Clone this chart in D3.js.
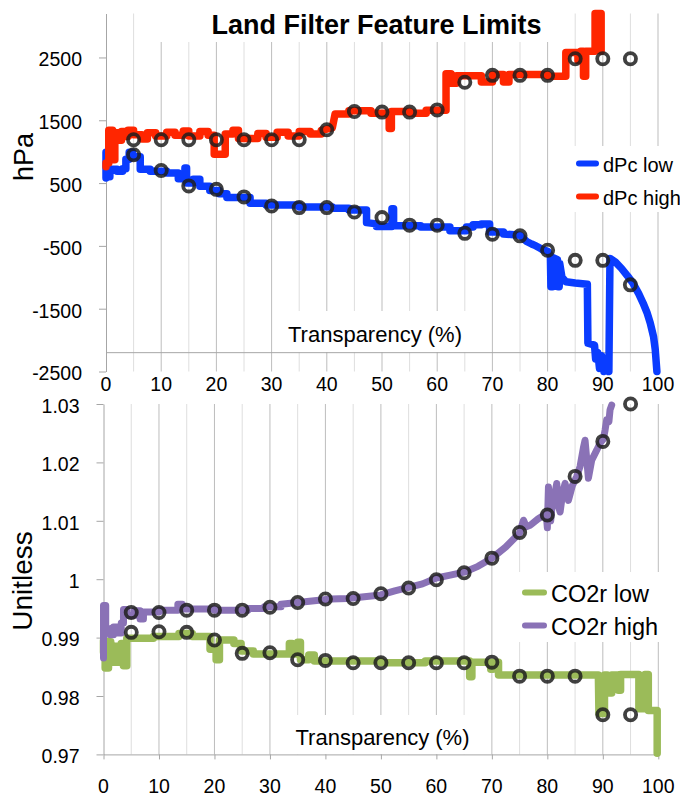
<!DOCTYPE html>
<html><head><meta charset="utf-8">
<script src="https://cdn.jsdelivr.net/npm/d3@7"></script>
<style>body{margin:0;background:#fff;}svg{display:block;}text{font-family:"Liberation Sans",Arial,sans-serif;fill:#000;}</style>
</head><body><svg id="c" width="680" height="796"></svg>
<script>
// ---------- data ----------
const xTickValues = [0,10,20,30,40,50,60,70,80,90,100];
const gridValues = [5,10,15,20,25,30,35,40,45,50,55,60,65,70,75,80,85,90,95,100];
const markX = [5,10,15,20,25,30,35,40,45,50,55,60,65,70,75,80,85,90,95];

const dPcTicks = [-2500,-1500,-500,500,1500,2500];
const dPcTickLabels = ["-2500","-1500","-500","500","1500","2500"];
const co2Ticks = [0.97,0.98,0.99,1,1.01,1.02,1.03];
const co2TickLabels = ["0.97","0.98","0.99","1","1.01","1.02","1.03"];

const dPcLowMarks = [950,700,455,400,280,135,110,110,40,-50,-170,-170,-300,-315,-340,-570,-730,-730,-1120];
const dPcHighMarks = [1190,1190,1190,1190,1190,1190,1190,1350,1640,1630,1630,1665,2105,2215,2215,2215,2480,2480,2480];
const co2LowMarks = [0.9909,0.9910,0.9909,0.9896,0.9873,0.9874,0.9862,0.9861,0.9857,0.9857,0.9857,0.9857,0.9857,0.9858,0.9834,0.9834,0.9834,0.9768,0.9768];
const co2HighMarks = [0.9943,0.9943,0.9947,0.9947,0.9947,0.9952,0.9960,0.9966,0.9967,0.9975,0.9985,0.9999,1.0011,1.0036,1.0080,1.0110,1.0176,1.0236,1.0300];

const dPcLow = [[0,580],[0,990],[0.3,990],[0.3,600],[0.7,600],[0.7,720],[2,720],[2,690],[3,690],[3,730],[3.6,730],[3.6,880],[4.2,880],[4.2,990],[4.8,990],[4.8,920],[6.2,920],[6.2,720],[8,720],[8,690],[11,690],[11,660],[13.1,660],[13.1,570],[14.3,570],[14.3,740],[14.6,740],[14.6,500],[15.8,500],[15.8,560],[17,560],[17,450],[18.8,450],[18.8,380],[20.5,380],[20.5,330],[21.9,330],[21.9,270],[26.1,270],[26.1,180],[29,180],[29,150],[35,150],[35,120],[41,120],[41,100],[44,100],[44,70],[47.2,70],[47.2,-130],[49,-150],[49,-190],[51.8,-190],[51.8,90],[52.1,90],[52.1,-180],[57,-180],[57,-200],[62.3,-200],[62.3,-260],[65.3,-260],[65.3,-200],[66.5,-200],[66.5,-165],[68,-165],[68,-150],[69.5,-150],[69.5,-280],[72,-280],[72,-310],[75,-330],[75.6,-380],[76.2,-430],[77.1,-470],[77.9,-500],[78.5,-530],[79.1,-560],[80.1,-590],[80.5,-650],[80.6,-1150],[80.9,-1150],[81,-690],[81.8,-720],[81.9,-1150],[82.1,-1150],[82.2,-780],[82.6,-1000],[83.3,-1070],[85,-1090],[87.2,-1110],[87.3,-2050],[88.5,-2080],[88.7,-2300],[89.1,-2200],[89.4,-2450],[89.8,-2250],[90.2,-2500],[90.8,-2350],[91.1,-2500],[91.3,-700],[92.3,-760],[93.4,-860],[94.5,-980],[95.5,-1100],[96.5,-1260],[97.3,-1410],[98,-1560],[98.6,-1730],[99.2,-1950],[99.5,-2150],[99.8,-2500]];

const dPcHigh = [[0,760],[0,820],[0.5,820],[0.5,1340],[1.2,1340],[1.2,870],[1.6,870],[1.6,1300],[2.4,1300],[2.4,1180],[2.8,1180],[2.8,1320],[3.4,1320],[3.4,1240],[4,1240],[4,1340],[5,1340],[5,1270],[6.5,1270],[6.5,1200],[7.5,1200],[7.5,1300],[9,1300],[9,1250],[11,1250],[11,1310],[12.5,1310],[12.5,1260],[14,1260],[14,1330],[15,1330],[15,1250],[17,1250],[17,1320],[18.5,1320],[18.5,1260],[19.6,1260],[19.6,960],[21.6,960],[21.6,1280],[23,1280],[23,1340],[24,1340],[24,1210],[27.5,1210],[27.5,1290],[29,1290],[29,1230],[31,1230],[31,1310],[33,1310],[33,1250],[35,1250],[35,1320],[37,1320],[37,1280],[39,1280],[39,1340],[41,1380],[41.5,1600],[44,1600],[44,1650],[48,1650],[48,1610],[51.3,1610],[51.3,1370],[51.7,1370],[51.7,1640],[55,1640],[55,1610],[58,1610],[58,1660],[61.6,1660],[61.6,2240],[62.5,2240],[62.5,2090],[63.5,2090],[63.5,2210],[68,2210],[68,2110],[70,2110],[70,2230],[72,2230],[72,2110],[73,2110],[73,2230],[80,2230],[80,2200],[83.3,2200],[83.3,2580],[85.5,2580],[85.5,2450],[86,2450],[86,2600],[86.5,2600],[86.5,2200],[86.9,2200],[86.9,2600],[88.6,2600],[88.6,3200],[89.7,3200],[89.7,2600]];

const co2Low = [[0,0.9875],[0,0.9895],[0.3,0.9895],[0.3,0.9848],[0.9,0.9848],[0.9,0.9893],[1.3,0.9893],[1.3,0.9858],[2.0,0.9858],[2.0,0.9885],[2.4,0.9885],[2.4,0.9858],[3.2,0.9858],[3.2,0.9890],[3.6,0.9890],[3.6,0.9852],[4.2,0.9852],[4.2,0.9899],[9,0.9899],[9,0.9902],[13.6,0.9902],[13.6,0.9907],[16,0.9907],[16,0.9902],[19.2,0.9902],[19.2,0.9880],[20.3,0.9880],[20.3,0.9862],[20.9,0.9862],[20.9,0.9896],[23.5,0.9896],[23.5,0.9890],[24.8,0.9890],[24.8,0.9877],[27,0.9877],[27,0.9872],[33.5,0.9872],[33.5,0.9890],[34,0.9890],[34,0.9872],[35,0.9872],[35,0.9892],[35.5,0.9892],[35.5,0.9862],[37,0.9862],[37,0.9870],[38,0.9870],[38,0.9860],[50,0.9860],[50,0.9857],[58,0.9857],[58,0.9860],[66,0.9860],[66,0.9833],[66.4,0.9833],[66.4,0.9858],[69.8,0.9858],[69.8,0.9846],[70.2,0.9846],[70.2,0.9858],[71.2,0.9858],[71.2,0.9836],[89.2,0.9836],[89.3,0.9770],[90.3,0.9770],[90.3,0.9836],[90.8,0.9836],[90.8,0.9805],[91.6,0.9805],[91.6,0.9836],[92.8,0.9836],[92.8,0.9810],[93.2,0.9810],[93.2,0.9837],[96.5,0.9837],[96.5,0.9778],[97.6,0.9778],[97.6,0.9837],[98.2,0.9837],[98.2,0.9775],[99.8,0.9775],[99.8,0.9702]];

const co2High = [[0,0.9865],[0,0.9955],[0.4,0.9955],[0.4,0.9915],[1.2,0.9915],[1.2,0.9905],[1.8,0.9905],[1.8,0.9918],[2.6,0.9918],[2.6,0.9908],[3.2,0.9908],[3.2,0.9925],[3.6,0.9925],[3.6,0.9948],[4.2,0.9948],[4.2,0.9938],[5.5,0.9938],[5.5,0.9946],[6.6,0.9946],[6.6,0.9932],[7.2,0.9932],[7.2,0.9944],[10,0.9944],[10,0.9947],[13.4,0.9947],[13.4,0.9957],[14.2,0.9957],[14.2,0.9949],[20,0.9949],[20,0.9947],[26,0.9947],[26,0.9950],[29,0.9950],[29,0.9953],[32,0.9953],[32,0.9957],[35,0.9960],[38,0.9963],[41,0.9966],[44,0.9967],[47,0.9970],[50,0.9973],[52.5,0.9980],[55,0.9986],[57.5,0.9992],[60,1.0002],[62.5,1.0007],[65,1.0012],[67.5,1.0022],[70,1.0036],[72.5,1.0055],[75,1.0079],[75.7,1.0101],[76.2,1.0090],[77,1.0093],[78.3,1.0103],[79.8,1.0112],[80.0,1.0088],[80.2,1.0158],[80.6,1.0100],[80.8,1.0120],[81.7,1.0164],[82.0,1.0125],[82.3,1.0115],[82.8,1.0150],[83.2,1.0164],[83.8,1.0135],[84.5,1.0160],[85.3,1.0176],[85.9,1.0193],[86.5,1.0225],[86.8,1.0238],[87.4,1.0173],[88,1.0204],[88.9,1.0221],[89.5,1.0233],[90.1,1.0240],[90.4,1.0255],[90.7,1.0273],[91.1,1.0270],[91.3,1.0290],[91.6,1.0298]];

// ---------- drawing ----------
const svg = d3.select('#c');
const FONT = '"Liberation Sans", Arial, sans-serif';

const T = {x: d3.scaleLinear([0,100],[106,658]), y: d3.scaleLinear([-2500,3200],[371.5,13.5])};
const B = {x: d3.scaleLinear([0,100],[103.5,658.3]), y: d3.scaleLinear([0.97,1.03],[754.4,404])};

function gridlines(P){
  svg.append('g').selectAll('line').data(gridValues).join('line')
    .attr('x1', d=>P.x(d)).attr('x2', d=>P.x(d))
    .attr('y1', P.y.range()[1]).attr('y2', P.y.range()[0])
    .attr('stroke', d=> d%10===0 ? '#bdbdbd' : '#dedede').attr('stroke-width',1);
}
function whiteBox(x,y,w,h){
  svg.append('rect').attr('x',x).attr('y',y).attr('width',w).attr('height',h).attr('fill','#fff');
}
function yAxis(P, ticks, labels){
  const g = svg.append('g').attr('transform',`translate(${P.x(0)},0)`)
    .call(d3.axisLeft(P.y).tickValues(ticks).tickSize(7).tickSizeOuter(0).tickPadding(17)
      .tickFormat((d,i)=>labels[i]));
  g.select('.domain').attr('stroke','#a6a6a6');
  g.selectAll('.tick line').attr('stroke','#a6a6a6');
  g.selectAll('.tick text').attr('font-family',FONT).attr('font-size',19.5).attr('fill','#000').attr('dy','0.43em');
}
function xLabels(P, yBase){
  svg.append('g').selectAll('text').data(xTickValues).join('text')
    .attr('x', d=>P.x(d)).attr('y', yBase).attr('text-anchor','middle')
    .attr('font-size',19.5).text(d=>d);
}
function series(P, data, color, w){
  const line = d3.line().x(d=>P.x(d[0])).y(d=>P.y(d[1]));
  svg.append('path').datum(data).attr('d',line).attr('fill','none')
    .attr('stroke',color).attr('stroke-width',w).attr('stroke-linejoin','round').attr('stroke-linecap','round');
}
function marks(P, vals){
  svg.append('g').selectAll('circle').data(vals).join('circle')
    .attr('cx',(d,i)=>P.x(markX[i])).attr('cy',d=>P.y(d)).attr('r',5.6)
    .attr('fill','none').attr('stroke','#1e1e1e').attr('stroke-opacity',0.85).attr('stroke-width',3.8);
}
function legend(items, y0, dy, fs, lx1, lx2, tx){
  items.forEach((it,i)=>{
    const y = y0 + i*dy;
    svg.append('line').attr('x1',lx1).attr('x2',lx2).attr('y1',y).attr('y2',y)
      .attr('stroke',it.color).attr('stroke-width',6).attr('stroke-linecap','round');
    svg.append('text').attr('x',tx).attr('y',y+it.base).attr('font-size',fs).text(it.name);
  });
}

const BLUE='#0a3cff', RED='#ff2600', GREEN='#9bbb59', PURPLE='#8a72b6';

// ---- top panel ----
gridlines(T);
whiteBox(150,0,410,42);
whiteBox(274,311,204,41);
whiteBox(568,146,112,66);
svg.append('line').attr('x1',T.x(0)).attr('x2',T.x(100)).attr('y1',T.y(-2200)).attr('y2',T.y(-2200)).attr('stroke','#a6a6a6');
yAxis(T, dPcTicks, dPcTickLabels);
xLabels(T, 390.5);
svg.append('text').attr('x',376.5).attr('y',33.5).attr('text-anchor','middle')
  .attr('font-size',27).attr('font-weight','bold').text('Land Filter Feature Limits');
svg.append('text').attr('x',375).attr('y',341.5).attr('text-anchor','middle').attr('font-size',22).text('Transparency (%)');
svg.append('text').attr('transform','translate(33,157) rotate(-90)').attr('text-anchor','middle').attr('font-size',27).text('hPa');
series(T, dPcLow, BLUE, 7.5);
series(T, dPcHigh, RED, 7.5);
marks(T, dPcLowMarks);
marks(T, dPcHighMarks);
legend([{name:'dPc low',color:BLUE,base:8},{name:'dPc high',color:RED,base:8}], 163.5, 33, 20, 579, 596, 603);

// ---- bottom panel ----
gridlines(B);
whiteBox(281,715,205,39);
whiteBox(514,572,158,70);
{
  const g = svg.append('g').attr('transform',`translate(0,${B.y(0.97)})`)
    .call(d3.axisBottom(B.x).tickValues(xTickValues).tickSize(5).tickSizeOuter(0).tickFormat(''));
  g.select('.domain').attr('stroke','#a6a6a6');
  g.selectAll('.tick line').attr('stroke','#a6a6a6');
}
yAxis(B, co2Ticks, co2TickLabels);
xLabels(B, 792.5);
svg.append('text').attr('x',382.5).attr('y',745).attr('text-anchor','middle').attr('font-size',22).text('Transparency (%)');
svg.append('text').attr('transform','translate(32,581) rotate(-90)').attr('text-anchor','middle').attr('font-size',28).text('Unitless');
series(B, co2Low, GREEN, 7.5);
series(B, co2High, PURPLE, 7);
marks(B, co2LowMarks);
marks(B, co2HighMarks);
legend([{name:'CO2r low',color:GREEN,base:9},{name:'CO2r high',color:PURPLE,base:9}], 592.5, 33, 23.5, 525, 544, 551);
</script></body></html>
